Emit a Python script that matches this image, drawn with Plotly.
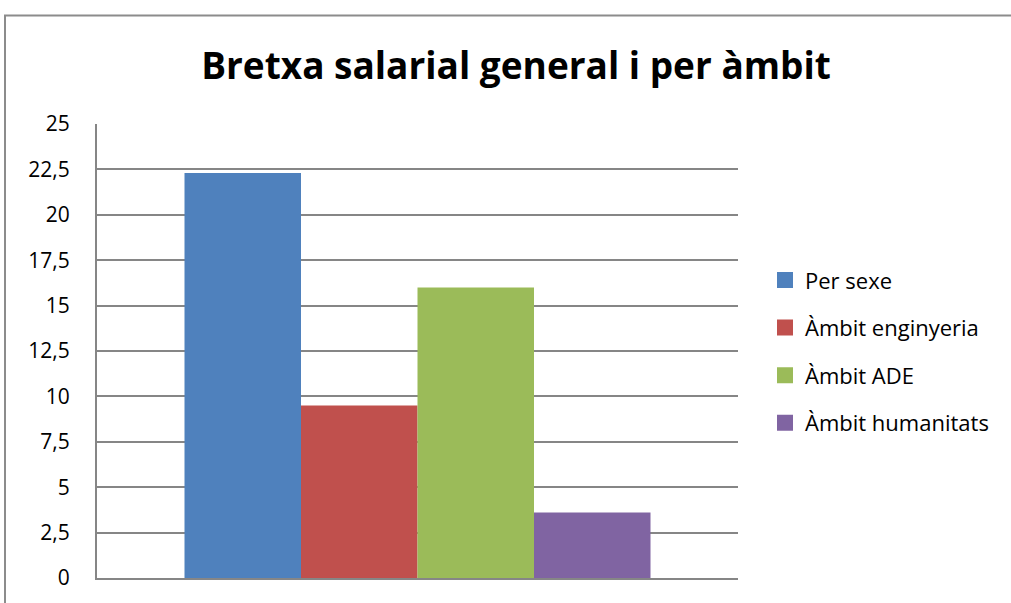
import plotly.graph_objects as go

series_names = ["Per sexe", "Àmbit enginyeria", "Àmbit ADE", "Àmbit humanitats"]
series_values = [22.3, 9.5, 16.0, 3.6]
series_colors = ["#4F81BD", "#C0504D", "#9BBB59", "#8064A2"]
category = [""]
title_text = "Bretxa salarial general i per àmbit"

W, H = 1011, 603
L, R, T, B = 97, 738, 124, 584

fig = go.Figure()
for i, (name, val, col) in enumerate(zip(series_names, series_values, series_colors)):
    fig.add_trace(go.Bar(
        x=category, y=[val], name=name, marker=dict(color=col, line=dict(width=0)),
        showlegend=False,
    ))
for i, (name, col) in enumerate(zip(series_names, series_colors)):
    fig.add_trace(go.Scatter(
        x=[None], y=[None], mode="markers", name=name,
        marker=dict(symbol="square", size=16, color=col, line=dict(width=0)),
        legendgroup=f"g{i}", showlegend=True,
    ))

pw = R - L
ph = B - T

def px_x(x):
    return (x - L) / pw

def px_y(y):
    return (B - y) / ph

FONT = "Open Sans, Liberation Sans, sans-serif"
fig.update_layout(
    width=W, height=H,
    margin=dict(l=L, r=W - R, t=T, b=H - B, pad=0),
    paper_bgcolor="white", plot_bgcolor="white",
    separators=",.",
    barmode="group", bargap=0.273, bargroupgap=0,
    font=dict(family=FONT, color="black", size=21),
    title=dict(text="<b>" + title_text + "</b>", x=516 / W, xref="container", xanchor="center",
               y=1 - 66 / H, yref="container", yanchor="middle",
               font=dict(size=37, color="black", family=FONT)),
    legend=dict(x=px_x(765), y=px_y(261), xanchor="left", yanchor="top",
                traceorder="grouped", tracegroupgap=16, itemsizing="trace",
                font=dict(size=22, color="black"), bgcolor="rgba(0,0,0,0)"),
    showlegend=True,
    xaxis=dict(showticklabels=False, showgrid=False, zeroline=False,
               showline=True, linecolor="#868686", linewidth=2, ticks=""),
    yaxis=dict(range=[0, 25], dtick=2.5, tick0=0, showgrid=True, gridcolor="#868686", gridwidth=1.5,
               zeroline=False, showline=True, linecolor="#868686", linewidth=2,
               ticks="", ticklabelstandoff=21, tickfont=dict(size=21, color="black")),
)

fig.add_shape(type="rect", xref="paper", yref="paper",
              x0=px_x(5), x1=px_x(1030), y0=px_y(640), y1=px_y(14),
              line=dict(color="#8C8C8C", width=2), fillcolor="rgba(0,0,0,0)", layer="below")

fig.write_html("out.html", config={"displayModeBar": False},
               post_script="document.body.style.margin='0';document.body.style.overflow='hidden';")
